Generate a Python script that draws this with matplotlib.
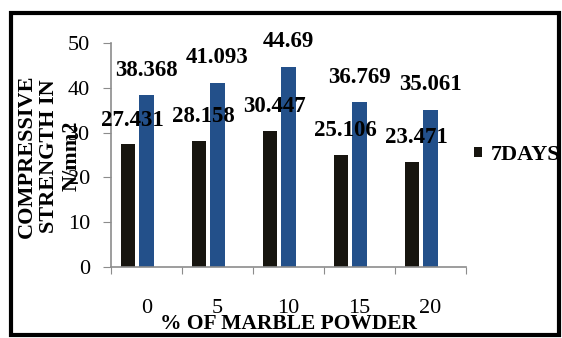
import numpy as np
import matplotlib.pyplot as plt
from matplotlib.patches import Rectangle

# compressive strength (N/mm2) for each % of marble powder
marble_pct = ["0", "5", "10", "15", "20"]
days7 = [27.431, 28.158, 30.447, 25.106, 23.471]
days28 = [38.368, 41.093, 44.69, 36.769, 35.061]
yticks = [0, 10, 20, 30, 40, 50]

plt.rcParams['font.family'] = ['Liberation Serif', 'DejaVu Serif']

fig = plt.figure(figsize=(5.62, 3.38), dpi=100)
ax = fig.add_axes([0.1975, 0.210, 0.6317, 0.6627])

x = np.arange(len(marble_pct))
w = 0.2
off = 0.26
b7 = ax.bar(x - off, days7, w, color='#17150f')
b28 = ax.bar(x, days28, w, color='#23508a')

for xi, v in zip(x - off, days7):
    ax.annotate(f"{v:g}", (xi, v), xytext=(4, 24), textcoords='offset pixels',
                ha='center', va='center', fontsize=16.5, fontweight='bold')
for xi, v in zip(x, days28):
    ax.annotate(f"{v:g}", (xi, v), xytext=(0, 25), textcoords='offset pixels',
                ha='center', va='center', fontsize=16.5, fontweight='bold')

ax.set_xlim(-0.5, 4.5)
ax.set_ylim(0, 50)
ax.set_yticks(yticks)
ax.set_yticklabels([str(t) for t in yticks], fontsize=16)
ax.tick_params(axis='y', length=6, color='#8c8c8c', pad=9)

# boundary ticks on the category axis, labels sit at the centres
ax.set_xticks(np.arange(-0.5, 5, 1))
ax.set_xticklabels([])
ax.tick_params(axis='x', which='major', length=5, color='#8c8c8c')
ax.set_xticks(x, minor=True)
ax.set_xticklabels(marble_pct, minor=True, fontsize=16)
ax.tick_params(axis='x', which='minor', length=0, pad=23)

for s in ['top', 'right']:
    ax.spines[s].set_visible(False)
for s in ['left', 'bottom']:
    ax.spines[s].set_color('#8c8c8c')
    ax.spines[s].set_linewidth(1.2)

fig.text(289 / 562, 1 - 324 / 338, "% OF MARBLE POWDER", ha='center', va='center',
         fontsize=15.5, fontweight='bold')
fig.text(49 / 562, 1 - 156 / 338, "COMPRESSIVE\nSTRENGTH IN\nN/mm2", rotation=90,
         ha='center', va='center', multialignment='center', fontsize=16,
         fontweight='bold', linespacing=1.15)

ax.legend([b7], ["7DAYS"], loc='center left', bbox_to_anchor=(465 / 562, 1 - 155 / 338),
          bbox_transform=fig.transFigure, frameon=False, handlelength=0.35,
          handleheight=0.35, handletextpad=0.4, borderaxespad=0,
          prop={'size': 16, 'weight': 'bold'})

# outer border
fig.patches.append(Rectangle((11 / 562, 1 - 335 / 338), 548 / 562, 322 / 338,
                             transform=fig.transFigure, fill=False,
                             edgecolor='black', linewidth=3))

fig.savefig("out.png", dpi=100)
